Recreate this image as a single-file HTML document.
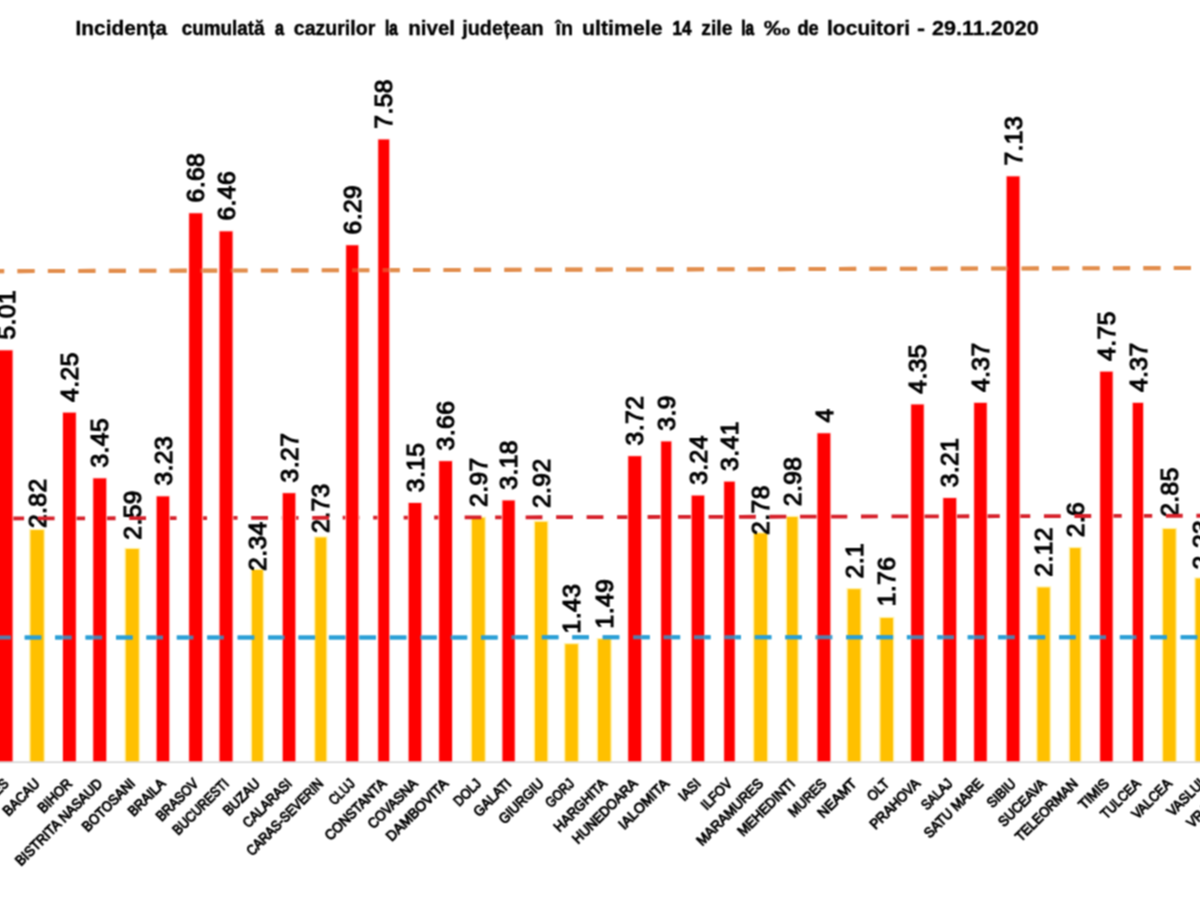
<!DOCTYPE html>
<html lang="ro">
<head>
<meta charset="utf-8">
<title>Incidența cumulată a cazurilor la nivel județean</title>
<style>
html,body{margin:0;padding:0;background:#fff;}
body{width:1200px;height:900px;overflow:hidden;position:relative;}
svg{display:block;position:absolute;left:-20px;top:-20px;font-family:"Liberation Sans",sans-serif;}
.ttl{font-weight:bold;font-size:20px;fill:#000;stroke:#000;stroke-width:0.3px;}
.val{font-size:24.6px;fill:#000;stroke:#000;stroke-width:1.15px;letter-spacing:0.45px;}
.cat{font-size:14.3px;fill:#000;stroke:#000;stroke-width:0.95px;}
</style>
</head>
<body>
<svg width="1240" height="940" viewBox="-20 -20 1240 940">
<defs><filter id="soft" color-interpolation-filters="sRGB" x="-20" y="-20" width="1240" height="940" filterUnits="userSpaceOnUse"><feConvolveMatrix order="3" kernelMatrix="1 2 1 2 4 2 1 2 1" divisor="16" edgeMode="duplicate" preserveAlpha="true"/></filter></defs>
<g filter="url(#soft)">
<rect x="-20" y="-20" width="1240" height="940" fill="#ffffff"/>
<text class="ttl" y="35"><tspan x="75.52" textLength="91.50" lengthAdjust="spacingAndGlyphs">Incidența</tspan> <tspan x="181.74" textLength="82.79" lengthAdjust="spacingAndGlyphs" stroke-width="0.45">cumulată</tspan> <tspan x="275.11" textLength="9.01" lengthAdjust="spacingAndGlyphs" stroke-width="0.80">a</tspan> <tspan x="293.77" textLength="81.49" lengthAdjust="spacingAndGlyphs" stroke-width="0.36">cazurilor</tspan> <tspan x="385.09" textLength="12.76" lengthAdjust="spacingAndGlyphs" stroke-width="0.91">la</tspan> <tspan x="408.25" textLength="46.75" lengthAdjust="spacingAndGlyphs">nivel</tspan> <tspan x="462.22" textLength="81.52" lengthAdjust="spacingAndGlyphs">județean</tspan> <tspan x="555.40" textLength="17.55" lengthAdjust="spacingAndGlyphs">în</tspan> <tspan x="582.00" textLength="80.49" lengthAdjust="spacingAndGlyphs">ultimele</tspan> <tspan x="672.59" textLength="19.00" lengthAdjust="spacingAndGlyphs" stroke-width="0.68">14</tspan> <tspan x="701.25" textLength="31.25" lengthAdjust="spacingAndGlyphs" stroke-width="0.38">zile</tspan> <tspan x="741.30" textLength="12.76" lengthAdjust="spacingAndGlyphs" stroke-width="0.91">la</tspan> <tspan x="763.72" textLength="26.32" lengthAdjust="spacingAndGlyphs">‰</tspan> <tspan x="797.50" textLength="21.25" lengthAdjust="spacingAndGlyphs" stroke-width="0.53">de</tspan> <tspan x="827.00" textLength="83.00" lengthAdjust="spacingAndGlyphs">locuitori</tspan> <tspan x="916.98" textLength="8.05" lengthAdjust="spacingAndGlyphs">-</tspan> <tspan x="932.00" textLength="106.75" lengthAdjust="spacingAndGlyphs">29.11.2020</tspan></text>
<g>
<rect x="29.1" y="528.9" width="16.0" height="232.6" fill="#fff2b0"/>
<rect x="30.5" y="530.1" width="13.2" height="231.4" fill="#ffc000"/>
<rect x="124.4" y="547.8" width="15.7" height="213.7" fill="#fff2b0"/>
<rect x="125.8" y="549.0" width="12.9" height="212.5" fill="#ffc000"/>
<rect x="250.6" y="568.8" width="13.6" height="192.7" fill="#fff2b0"/>
<rect x="252.0" y="570.0" width="10.8" height="191.5" fill="#ffc000"/>
<rect x="313.9" y="536.3" width="13.7" height="225.2" fill="#fff2b0"/>
<rect x="315.3" y="537.5" width="10.9" height="224.0" fill="#ffc000"/>
<rect x="470.6" y="516.6" width="15.5" height="244.9" fill="#fff2b0"/>
<rect x="472.0" y="517.8" width="12.7" height="243.7" fill="#ffc000"/>
<rect x="533.6" y="520.7" width="15.0" height="240.8" fill="#fff2b0"/>
<rect x="535.0" y="521.9" width="12.2" height="239.6" fill="#ffc000"/>
<rect x="563.9" y="643.0" width="15.3" height="118.5" fill="#fff2b0"/>
<rect x="565.3" y="644.2" width="12.5" height="117.3" fill="#ffc000"/>
<rect x="596.6" y="638.0" width="15.3" height="123.5" fill="#fff2b0"/>
<rect x="598.0" y="639.2" width="12.5" height="122.3" fill="#ffc000"/>
<rect x="752.8" y="532.2" width="15.6" height="229.3" fill="#fff2b0"/>
<rect x="754.2" y="533.4" width="12.8" height="228.1" fill="#ffc000"/>
<rect x="785.6" y="515.8" width="13.3" height="245.7" fill="#fff2b0"/>
<rect x="787.0" y="517.0" width="10.5" height="244.5" fill="#ffc000"/>
<rect x="846.4" y="588.0" width="15.3" height="173.5" fill="#fff2b0"/>
<rect x="847.8" y="589.2" width="12.5" height="172.3" fill="#ffc000"/>
<rect x="879.1" y="616.8" width="15.3" height="144.7" fill="#fff2b0"/>
<rect x="880.5" y="618.0" width="12.5" height="143.5" fill="#ffc000"/>
<rect x="1036.1" y="586.3" width="15.0" height="175.2" fill="#fff2b0"/>
<rect x="1037.5" y="587.5" width="12.2" height="174.0" fill="#ffc000"/>
<rect x="1068.6" y="546.9" width="13.1" height="214.6" fill="#fff2b0"/>
<rect x="1070.0" y="548.1" width="10.3" height="213.4" fill="#ffc000"/>
<rect x="1161.7" y="527.8" width="15.3" height="233.7" fill="#fff2b0"/>
<rect x="1163.1" y="529.0" width="12.5" height="232.5" fill="#ffc000"/>
<rect x="1194.2" y="577.3" width="15.2" height="184.2" fill="#fff2b0"/>
<rect x="1195.6" y="578.5" width="12.4" height="183.0" fill="#ffc000"/>
</g>
<g class="val">
<text transform="translate(14.6 339.6) rotate(-90)">5.01</text>
<text transform="translate(45.7 528.1) rotate(-90)">2.82</text>
<text transform="translate(78.0 401.9) rotate(-90)">4.25</text>
<text transform="translate(108.4 467.6) rotate(-90)">3.45</text>
<text transform="translate(140.9 539.7) rotate(-90)">2.59</text>
<text transform="translate(171.6 485.6) rotate(-90)">3.23</text>
<text transform="translate(204.3 202.5) rotate(-90)">6.68</text>
<text transform="translate(234.7 220.6) rotate(-90)">6.46</text>
<text transform="translate(266.0 571.0) rotate(-90)">2.34</text>
<text transform="translate(297.7 482.4) rotate(-90)">3.27</text>
<text transform="translate(329.4 533.0) rotate(-90)">2.73</text>
<text transform="translate(360.9 234.5) rotate(-90)">6.29</text>
<text transform="translate(392.4 128.7) rotate(-90)">7.58</text>
<text transform="translate(423.6 492.2) rotate(-90)">3.15</text>
<text transform="translate(454.2 450.4) rotate(-90)">3.66</text>
<text transform="translate(487.0 507.0) rotate(-90)">2.97</text>
<text transform="translate(517.2 489.7) rotate(-90)">3.18</text>
<text transform="translate(549.7 508.1) rotate(-90)">2.92</text>
<text transform="translate(580.2 633.4) rotate(-90)">1.43</text>
<text transform="translate(612.9 628.4) rotate(-90)">1.49</text>
<text transform="translate(643.4 445.4) rotate(-90)">3.72</text>
<text transform="translate(674.9 430.7) rotate(-90)">3.9</text>
<text transform="translate(706.6 484.8) rotate(-90)">3.24</text>
<text transform="translate(738.1 470.9) rotate(-90)">3.41</text>
<text transform="translate(769.2 534.9) rotate(-90)">2.78</text>
<text transform="translate(800.9 506.2) rotate(-90)">2.98</text>
<text transform="translate(832.5 422.5) rotate(-90)">4</text>
<text transform="translate(862.7 578.4) rotate(-90)">2.1</text>
<text transform="translate(895.4 606.3) rotate(-90)">1.76</text>
<text transform="translate(926.1 393.7) rotate(-90)">4.35</text>
<text transform="translate(958.4 487.3) rotate(-90)">3.21</text>
<text transform="translate(989.1 392.1) rotate(-90)">4.37</text>
<text transform="translate(1021.7 165.6) rotate(-90)">7.13</text>
<text transform="translate(1052.2 576.7) rotate(-90)">2.12</text>
<text transform="translate(1083.8 537.3) rotate(-90)">2.6</text>
<text transform="translate(1115.0 360.9) rotate(-90)">4.75</text>
<text transform="translate(1146.5 392.1) rotate(-90)">4.37</text>
<text transform="translate(1178.0 516.8) rotate(-90)">2.85</text>
<text transform="translate(1210.4 569.5) rotate(-90)">2.23</text>
<text transform="translate(1241.6 504.5) rotate(-90)">3</text>
</g>
<g>
<line x1="-13" y1="271.2" x2="1191.3" y2="268" stroke="#e28d4c" stroke-width="4.1" stroke-dasharray="17.2 13.23" opacity="1"/>
<line x1="7.3" y1="518.5" x2="1210" y2="515.7" stroke="#d6202a" stroke-width="3.8" stroke-dasharray="16.8 13.69" opacity="1"/>
<line x1="-5.7" y1="637.5" x2="1210" y2="637.2" stroke="#2a9fd6" stroke-width="4" stroke-dasharray="16.6 13.82" opacity="1"/>
</g>
<g>
<rect x="-12.9" y="349.6" width="26.3" height="411.9" fill="#ffd9d9"/>
<rect x="-12.0" y="350.4" width="24.5" height="411.1" fill="#ff0000"/>
<rect x="62.1" y="411.9" width="14.6" height="349.6" fill="#ffd9d9"/>
<rect x="63.0" y="412.7" width="12.8" height="348.8" fill="#ff0000"/>
<rect x="92.4" y="477.6" width="14.7" height="283.9" fill="#ffd9d9"/>
<rect x="93.3" y="478.4" width="12.9" height="283.1" fill="#ff0000"/>
<rect x="155.8" y="495.6" width="14.3" height="265.9" fill="#ffd9d9"/>
<rect x="156.7" y="496.4" width="12.5" height="265.1" fill="#ff0000"/>
<rect x="188.3" y="212.5" width="14.8" height="549.0" fill="#ffd9d9"/>
<rect x="189.2" y="213.3" width="13.0" height="548.2" fill="#ff0000"/>
<rect x="218.7" y="230.6" width="14.7" height="530.9" fill="#ffd9d9"/>
<rect x="219.6" y="231.4" width="12.9" height="530.1" fill="#ff0000"/>
<rect x="281.9" y="492.4" width="14.3" height="269.1" fill="#ffd9d9"/>
<rect x="282.8" y="493.2" width="12.5" height="268.3" fill="#ff0000"/>
<rect x="345.3" y="244.5" width="13.9" height="517.0" fill="#ffd9d9"/>
<rect x="346.2" y="245.3" width="12.1" height="516.2" fill="#ff0000"/>
<rect x="377.4" y="138.7" width="12.7" height="622.8" fill="#ffd9d9"/>
<rect x="378.3" y="139.5" width="10.9" height="622.0" fill="#ff0000"/>
<rect x="407.8" y="502.2" width="14.4" height="259.3" fill="#ffd9d9"/>
<rect x="408.7" y="503.0" width="12.6" height="258.5" fill="#ff0000"/>
<rect x="438.3" y="460.4" width="14.6" height="301.1" fill="#ffd9d9"/>
<rect x="439.2" y="461.2" width="12.8" height="300.3" fill="#ff0000"/>
<rect x="501.6" y="499.7" width="14.0" height="261.8" fill="#ffd9d9"/>
<rect x="502.5" y="500.5" width="12.2" height="261.0" fill="#ff0000"/>
<rect x="627.4" y="455.4" width="14.7" height="306.1" fill="#ffd9d9"/>
<rect x="628.3" y="456.2" width="12.9" height="305.3" fill="#ff0000"/>
<rect x="660.3" y="440.7" width="11.9" height="320.8" fill="#ffd9d9"/>
<rect x="661.2" y="441.5" width="10.1" height="320.0" fill="#ff0000"/>
<rect x="690.8" y="494.8" width="14.3" height="266.7" fill="#ffd9d9"/>
<rect x="691.7" y="495.6" width="12.5" height="265.9" fill="#ff0000"/>
<rect x="723.3" y="480.9" width="12.3" height="280.6" fill="#ffd9d9"/>
<rect x="724.2" y="481.7" width="10.5" height="279.8" fill="#ff0000"/>
<rect x="816.6" y="432.5" width="14.6" height="329.0" fill="#ffd9d9"/>
<rect x="817.5" y="433.3" width="12.8" height="328.2" fill="#ff0000"/>
<rect x="910.3" y="403.7" width="14.3" height="357.8" fill="#ffd9d9"/>
<rect x="911.2" y="404.5" width="12.5" height="357.0" fill="#ff0000"/>
<rect x="942.4" y="497.3" width="14.7" height="264.2" fill="#ffd9d9"/>
<rect x="943.3" y="498.1" width="12.9" height="263.4" fill="#ff0000"/>
<rect x="973.3" y="402.1" width="14.3" height="359.4" fill="#ffd9d9"/>
<rect x="974.2" y="402.9" width="12.5" height="358.6" fill="#ff0000"/>
<rect x="1005.8" y="175.6" width="14.6" height="585.9" fill="#ffd9d9"/>
<rect x="1006.7" y="176.4" width="12.8" height="585.1" fill="#ff0000"/>
<rect x="1099.3" y="370.9" width="14.2" height="390.6" fill="#ffd9d9"/>
<rect x="1100.2" y="371.7" width="12.4" height="389.8" fill="#ff0000"/>
<rect x="1131.8" y="402.1" width="12.1" height="359.4" fill="#ffd9d9"/>
<rect x="1132.8" y="402.9" width="10.3" height="358.6" fill="#ff0000"/>
<rect x="1226.1" y="514.5" width="13.8" height="247.0" fill="#ffd9d9"/>
<rect x="1227.0" y="515.3" width="12.0" height="246.2" fill="#ff0000"/>
</g>
<g>
<line x1="-13" y1="271.2" x2="1191.3" y2="268" stroke="#e28d4c" stroke-width="4.1" stroke-dasharray="17.2 13.23" opacity="0.45"/>
<line x1="-5.7" y1="637.5" x2="1210" y2="637.2" stroke="#2a9fd6" stroke-width="4" stroke-dasharray="16.6 13.82" opacity="0.8"/>
</g>
<line x1="-20" y1="762.2" x2="1220" y2="762.2" stroke="#d4d4d4" stroke-width="1.6"/>
<g class="cat" text-anchor="end">
<text transform="translate(9.5 784.5) rotate(-45)" textLength="42.7" lengthAdjust="spacingAndGlyphs">ARGES</text>
<text transform="translate(40.6 784.5) rotate(-45)" textLength="45.5" lengthAdjust="spacingAndGlyphs">BACAU</text>
<text transform="translate(72.9 784.5) rotate(-45)" textLength="41.5" lengthAdjust="spacingAndGlyphs">BIHOR</text>
<text transform="translate(103.2 784.5) rotate(-45)" textLength="116.1" lengthAdjust="spacingAndGlyphs">BISTRITA NASAUD</text>
<text transform="translate(135.8 784.5) rotate(-45)" textLength="67.8" lengthAdjust="spacingAndGlyphs">BOTOSANI</text>
<text transform="translate(166.4 784.5) rotate(-45)" textLength="46.1" lengthAdjust="spacingAndGlyphs">BRAILA</text>
<text transform="translate(199.2 784.5) rotate(-45)" textLength="53.0" lengthAdjust="spacingAndGlyphs">BRASOV</text>
<text transform="translate(229.6 784.5) rotate(-45)" textLength="72.5" lengthAdjust="spacingAndGlyphs">BUCURESTI</text>
<text transform="translate(260.9 784.5) rotate(-45)" textLength="45.4" lengthAdjust="spacingAndGlyphs">BUZAU</text>
<text transform="translate(292.6 784.5) rotate(-45)" textLength="62.3" lengthAdjust="spacingAndGlyphs">CALARASI</text>
<text transform="translate(324.2 784.5) rotate(-45)" textLength="101.8" lengthAdjust="spacingAndGlyphs">CARAS-SEVERIN</text>
<text transform="translate(355.8 784.5) rotate(-45)" textLength="30.2" lengthAdjust="spacingAndGlyphs">CLUJ</text>
<text transform="translate(387.2 784.5) rotate(-45)" textLength="80.2" lengthAdjust="spacingAndGlyphs">CONSTANTA</text>
<text transform="translate(418.5 784.5) rotate(-45)" textLength="63.6" lengthAdjust="spacingAndGlyphs">COVASNA</text>
<text transform="translate(449.1 784.5) rotate(-45)" textLength="81.2" lengthAdjust="spacingAndGlyphs">DAMBOVITA</text>
<text transform="translate(481.9 784.5) rotate(-45)" textLength="31.9" lengthAdjust="spacingAndGlyphs">DOLJ</text>
<text transform="translate(512.1 784.5) rotate(-45)" textLength="46.6" lengthAdjust="spacingAndGlyphs">GALATI</text>
<text transform="translate(544.6 784.5) rotate(-45)" textLength="56.8" lengthAdjust="spacingAndGlyphs">GIURGIU</text>
<text transform="translate(575.0 784.5) rotate(-45)" textLength="34.0" lengthAdjust="spacingAndGlyphs">GORJ</text>
<text transform="translate(607.8 784.5) rotate(-45)" textLength="68.2" lengthAdjust="spacingAndGlyphs">HARGHITA</text>
<text transform="translate(638.2 784.5) rotate(-45)" textLength="85.0" lengthAdjust="spacingAndGlyphs">HUNEDOARA</text>
<text transform="translate(669.8 784.5) rotate(-45)" textLength="64.6" lengthAdjust="spacingAndGlyphs">IALOMITA</text>
<text transform="translate(701.5 784.5) rotate(-45)" textLength="24.4" lengthAdjust="spacingAndGlyphs">IASI</text>
<text transform="translate(733.0 784.5) rotate(-45)" textLength="37.3" lengthAdjust="spacingAndGlyphs">ILFOV</text>
<text transform="translate(764.1 784.5) rotate(-45)" textLength="87.6" lengthAdjust="spacingAndGlyphs">MARAMURES</text>
<text transform="translate(795.8 784.5) rotate(-45)" textLength="74.4" lengthAdjust="spacingAndGlyphs">MEHEDINTI</text>
<text transform="translate(827.4 784.5) rotate(-45)" textLength="47.2" lengthAdjust="spacingAndGlyphs">MURES</text>
<text transform="translate(857.5 784.5) rotate(-45)" textLength="48.3" lengthAdjust="spacingAndGlyphs">NEAMT</text>
<text transform="translate(890.2 784.5) rotate(-45)" textLength="24.8" lengthAdjust="spacingAndGlyphs">OLT</text>
<text transform="translate(921.0 784.5) rotate(-45)" textLength="64.3" lengthAdjust="spacingAndGlyphs">PRAHOVA</text>
<text transform="translate(953.2 784.5) rotate(-45)" textLength="37.2" lengthAdjust="spacingAndGlyphs">SALAJ</text>
<text transform="translate(984.0 784.5) rotate(-45)" textLength="76.8" lengthAdjust="spacingAndGlyphs">SATU MARE</text>
<text transform="translate(1016.6 784.5) rotate(-45)" textLength="34.0" lengthAdjust="spacingAndGlyphs">SIBIU</text>
<text transform="translate(1047.1 784.5) rotate(-45)" textLength="60.8" lengthAdjust="spacingAndGlyphs">SUCEAVA</text>
<text transform="translate(1078.7 784.5) rotate(-45)" textLength="81.7" lengthAdjust="spacingAndGlyphs">TELEORMAN</text>
<text transform="translate(1109.9 784.5) rotate(-45)" textLength="36.4" lengthAdjust="spacingAndGlyphs">TIMIS</text>
<text transform="translate(1141.4 784.5) rotate(-45)" textLength="49.8" lengthAdjust="spacingAndGlyphs">TULCEA</text>
<text transform="translate(1172.8 784.5) rotate(-45)" textLength="50.0" lengthAdjust="spacingAndGlyphs">VALCEA</text>
<text transform="translate(1205.3 784.5) rotate(-45)" textLength="46.1" lengthAdjust="spacingAndGlyphs">VASLUI</text>
<text transform="translate(1236.5 784.5) rotate(-45)" textLength="62.2" lengthAdjust="spacingAndGlyphs">VRANCEA</text>
</g>
</g>
</svg>
</body>
</html>
